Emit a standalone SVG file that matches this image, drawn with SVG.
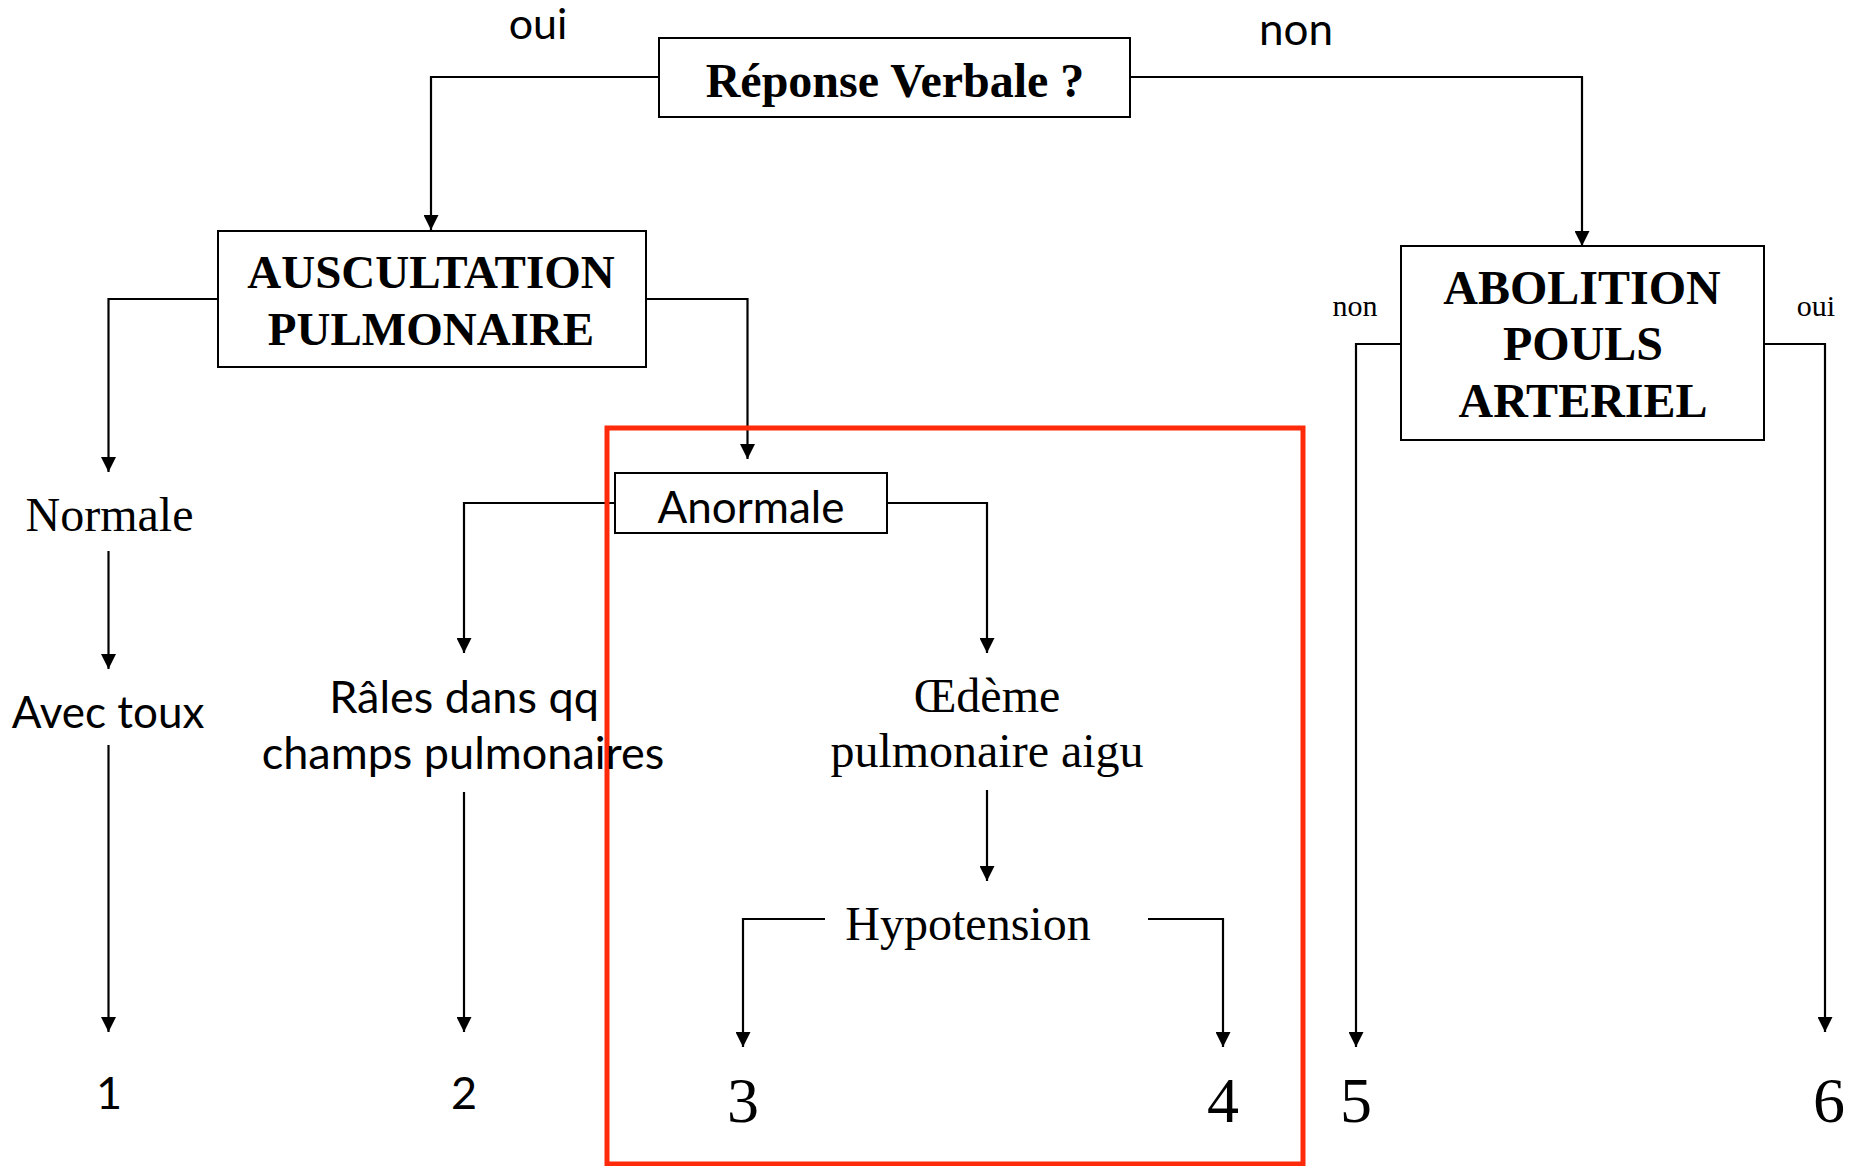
<svg xmlns="http://www.w3.org/2000/svg" width="1853" height="1166" viewBox="0 0 1853 1166">
<style>
.box{fill:#fff;stroke:#000;stroke-width:2}
.ln{fill:none;stroke:#000;stroke-width:2.2}
.ar{marker-end:url(#ah)}
.serif{font-family:"Liberation Serif","Times New Roman",serif;fill:#000;text-anchor:middle}
.bold{font-weight:bold}
.sans{font-family:Lato,"Open Sans","Liberation Sans",sans-serif;fill:#000;text-anchor:middle}
</style>
<defs>
<marker id="ah" markerUnits="userSpaceOnUse" markerWidth="16" markerHeight="15" refX="15" refY="7.5" orient="auto">
<path d="M0,0 L15,7.5 L0,15 z" fill="#000"/>
</marker>
</defs>
<rect width="1853" height="1166" fill="#fff"/>

<g id="connectors">
<polyline class="ln ar" points="659,77 431,77 431,230"/>
<polyline class="ln ar" points="1129,77 1582,77 1582,246"/>
<polyline class="ln ar" points="218,299 108.5,299 108.5,472"/>
<polyline class="ln ar" points="646,299 747.5,299 747.5,459"/>
<line class="ln ar" x1="108.5" y1="551" x2="108.5" y2="669"/>
<line class="ln ar" x1="108.5" y1="745" x2="108.5" y2="1032"/>
<polyline class="ln ar" points="615,503 464,503 464,653"/>
<polyline class="ln ar" points="887,503 987,503 987,653"/>
<line class="ln ar" x1="464" y1="792" x2="464" y2="1032"/>
<line class="ln ar" x1="987" y1="790" x2="987" y2="881"/>
<polyline class="ln ar" points="825,919 743,919 743,1047"/>
<polyline class="ln ar" points="1148,919 1223,919 1223,1047"/>
<polyline class="ln ar" points="1401,344 1356,344 1356,1047"/>
<polyline class="ln ar" points="1764,344 1825,344 1825,1032"/>
</g>

<g id="highlight">
<rect x="607" y="428" width="696" height="736" fill="none" stroke="#ff2a0a" stroke-width="5"/>
</g>

<g id="label-oui-top"><text class="sans" x="538" y="39" font-size="43">oui</text></g>
<g id="label-non-top"><text class="sans" x="1296" y="45" font-size="44">non</text></g>
<g id="label-non-small"><text class="serif" x="1355" y="316" font-size="30">non</text></g>
<g id="label-oui-small"><text class="serif" x="1816" y="316" font-size="30">oui</text></g>

<g id="node-reponse">
<rect class="box" x="659" y="38" width="471" height="79"/>
<text class="serif bold" x="895" y="97" font-size="48">Réponse Verbale ?</text>
</g>

<g id="node-auscultation">
<rect class="box" x="218" y="231" width="428" height="136"/>
<text class="serif bold" x="431" y="288" font-size="47">AUSCULTATION</text>
<text class="serif bold" x="431" y="345" font-size="47">PULMONAIRE</text>
</g>

<g id="node-abolition">
<rect class="box" x="1401" y="246" width="363" height="194"/>
<text class="serif bold" x="1582" y="304" font-size="48">ABOLITION</text>
<text class="serif bold" x="1583" y="360" font-size="48">POULS</text>
<text class="serif bold" x="1583" y="417" font-size="48">ARTERIEL</text>
</g>

<g id="node-normale"><text class="serif" x="109.5" y="531" font-size="48">Normale</text></g>
<g id="node-anormale">
<rect class="box" x="615" y="473" width="272" height="60"/>
<text class="sans" x="751" y="523" font-size="44">Anormale</text>
</g>
<g id="node-avectoux"><text class="sans" x="108" y="728" font-size="44">Avec toux</text></g>
<g id="node-rales">
<text class="sans" x="464" y="713" font-size="45">Râles dans qq</text>
<text class="sans" x="463" y="769" font-size="45">champs pulmonaires</text>
</g>
<g id="node-oedeme">
<text class="serif" x="987" y="712" font-size="48">Œdème</text>
<text class="serif" x="987" y="767" font-size="48">pulmonaire aigu</text>
</g>
<g id="node-hypotension"><text class="serif" x="968" y="940" font-size="48">Hypotension</text></g>

<g id="node-1"><text class="sans" x="109" y="1109" font-size="45">1</text></g>
<g id="node-2"><text class="sans" x="464" y="1109" font-size="45">2</text></g>
<g id="node-3"><text class="serif" x="743" y="1122" font-size="64">3</text></g>
<g id="node-4"><text class="serif" x="1223" y="1122" font-size="64">4</text></g>
<g id="node-5"><text class="serif" x="1356" y="1122" font-size="64">5</text></g>
<g id="node-6"><text class="serif" x="1829" y="1122" font-size="64">6</text></g>
</svg>
